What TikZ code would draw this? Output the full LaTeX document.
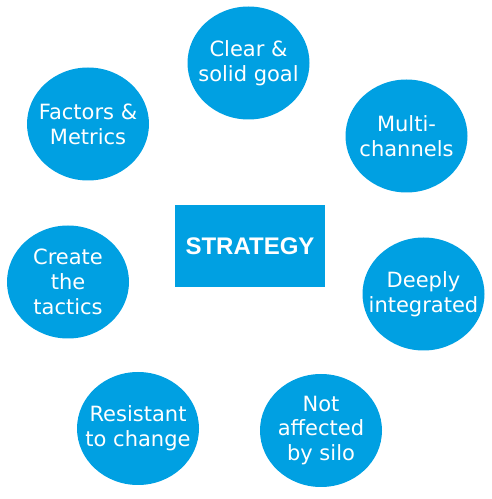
\documentclass[tikz,border=0pt]{standalone}
\usepackage{fontspec}
\setmainfont{DejaVu Sans}
\newfontfamily\corefont{Liberation Sans}
\usetikzlibrary{shapes.geometric}
\definecolor{bubblue}{RGB}{0,160,226}
\tikzset{
  bubble/.style = {ellipse, fill=bubblue, minimum width=122pt, minimum height=113pt,
                   inner sep=0pt},
  btext/.style  = {text=white, align=center, font=\fontsize{21}{24.8}\selectfont},
  core/.style   = {fill=bubblue, minimum width=150pt, minimum height=82pt, inner sep=0pt,
                   text=white, font=\corefont\bfseries\fontsize{24}{28}\selectfont},
}
\begin{document}
\begin{tikzpicture}[x=1pt,y=1pt]
  \useasboundingbox (0,0) rectangle (491,499);
  \node[core] (strategy) at (250,253) {STRATEGY};
  \foreach \n/\p/\t in {goal/{248.5,436}/{Clear \&\\solid goal},
                        factors/{88,375}/{Factors \&\\Metrics},
                        multi/{406.5,363}/{Multi-\\channels},
                        tactics/{68,217}/{Create\\the\\tactics},
                        deeply/{423.5,205}/{Deeply\\integrated},
                        resist/{138,70.5}/{Resistant\\to change},
                        silo/{321,68.5}/{Not\\affected\\by silo}}
    {\node[bubble] (\n) at (\p) {};
     \node[btext] (\n-text) at (\n) {\t};}
\end{tikzpicture}
\end{document}
